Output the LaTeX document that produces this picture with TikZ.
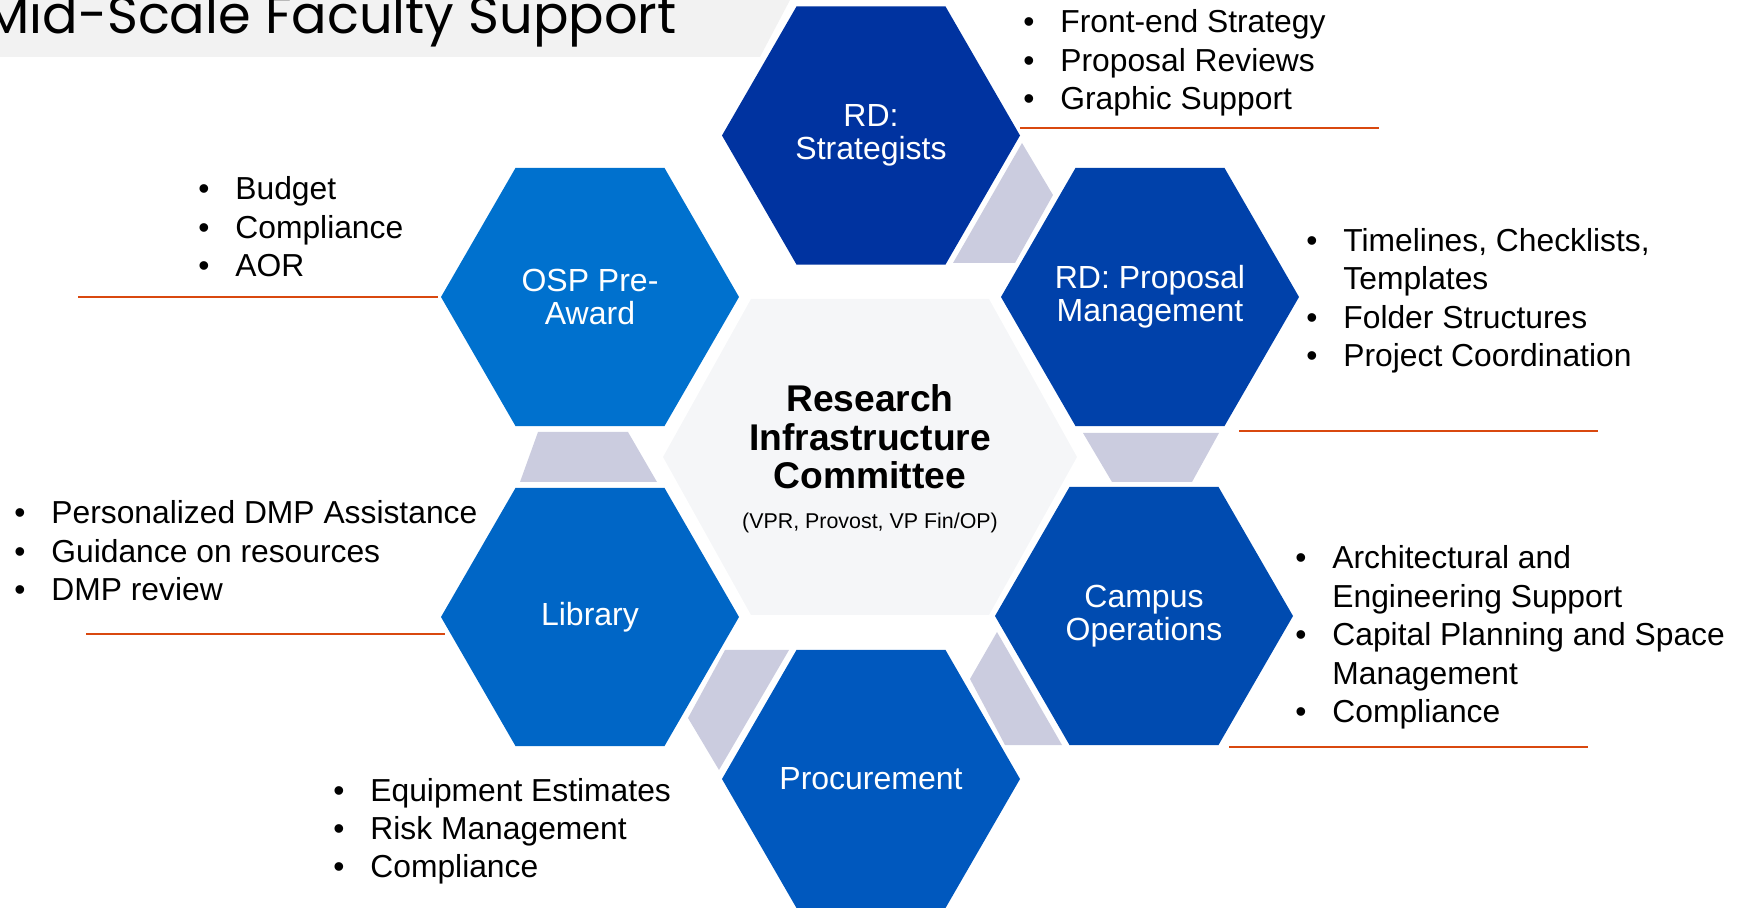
\documentclass[tikz,border=0pt]{standalone}
\usepackage{fontspec}
\setmainfont{Liberation Sans}
\newfontfamily\titlefont{Poppins}
\usetikzlibrary{shapes.geometric}

\definecolor{stratblue}{HTML}{0033A0}
\definecolor{ospblue}{HTML}{0071CE}
\definecolor{propblue}{HTML}{0041AA}
\definecolor{libblue}{HTML}{0066C6}
\definecolor{procblue}{HTML}{0058BE}
\definecolor{campblue}{HTML}{004BB0}
\definecolor{linkgray}{HTML}{CBCCDF}
\definecolor{hubfill}{HTML}{F5F6F8}
\definecolor{titlegray}{HTML}{F2F2F2}
\definecolor{dividerorange}{HTML}{D9480F}

\newcommand{\bitem}[1]{\textbullet & #1\\}
\newcommand{\bmore}[1]{ & #1\\}

\tikzset{
  hexcell/.style={regular polygon, regular polygon sides=6, minimum size=149pt,
    inner sep=-30pt, text=white, align=center, font=\fontsize{16}{16.7}\selectfont},
  tasklist/.style={anchor=base west, inner sep=0pt, font=\fontsize{15.9}{19.2}\selectfont},
  divider/.style={dividerorange, line width=1pt},
}

\begin{document}
\begin{tikzpicture}[x=0.5pt, y=-0.5pt]
  \useasboundingbox (0,0) rectangle (1746,908);
  \clip (0,0) rectangle (1746,908);

  % title band
  \fill[titlegray] (0,0) -- (790,0) -- (760,57) -- (0,57) -- cycle;
  \node[anchor=base east, inner sep=0pt, font=\titlefont\fontsize{26.3}{30}\selectfont] (title) at (677,34) {Mid-Scale Faculty Support};

  % hub
  \fill[hubfill] (663,457) -- (751,299) -- (989,299) -- (1077,457) -- (989,615) -- (751,615) -- cycle;
  \node[align=center, font=\bfseries\fontsize{18.6}{19.2}\selectfont] (ric) at (870,437) {Research\\Infrastructure\\Committee};
  \node[font=\fontsize{10.7}{12}\selectfont] (ricnote) at (870,523) {(VPR, Provost, VP Fin/OP)};

  % gray links
  \fill[linkgray] (1022,143) -- (1053,195) -- (1015,263) -- (953,263) -- cycle;
  \fill[linkgray] (538,432) -- (628,432) -- (657,482) -- (520,482) -- cycle;
  \fill[linkgray] (725,650) -- (789,650) -- (719,770) -- (688,718) -- cycle;
  \fill[linkgray] (997,632) -- (1062,745) -- (1005,745) -- (970,679) -- cycle;
  \fill[linkgray] (1083,433) -- (1219,433) -- (1192,482) -- (1112,482) -- cycle;

  % units
  \node[hexcell, fill=stratblue] (strat) at (871,135.5) {RD:\\Strategists};
  \node[hexcell, fill=ospblue] (osp) at (590,297) {OSP Pre-\\Award};
  \node[hexcell, fill=propblue] (prop) at (1150,297) {RD: Proposal\\Management};
  \node[hexcell, fill=libblue] (lib) at (590,617) {Library};
  \node[hexcell, fill=procblue] (proc) at (871,779) {Procurement};
  \node[hexcell, fill=campblue] (camp) at (1144,616) {Campus\\Operations};

  % task lists
  \node[tasklist] (stratlist) at (1023,33) {\begin{tabular}[t]{@{}p{18.5pt}@{}l@{}}
    \bitem{Front-end Strategy}\bitem{Proposal Reviews}\bitem{Graphic Support}\end{tabular}};
  \node[tasklist] (osplist) at (198,200) {\begin{tabular}[t]{@{}p{18.5pt}@{}l@{}}
    \bitem{Budget}\bitem{Compliance}\bitem{AOR}\end{tabular}};
  \node[tasklist] (proplist) at (1306,251.5) {\begin{tabular}[t]{@{}p{18.5pt}@{}l@{}}
    \bitem{Timelines, Checklists,}\bmore{Templates}\bitem{Folder Structures}\bitem{Project Coordination}\end{tabular}};
  \node[tasklist] (liblist) at (14,524) {\begin{tabular}[t]{@{}p{18.5pt}@{}l@{}}
    \bitem{Personalized DMP Assistance}\bitem{Guidance on resources}\bitem{DMP review}\end{tabular}};
  \node[tasklist] (camplist) at (1295,569) {\begin{tabular}[t]{@{}p{18.5pt}@{}l@{}}
    \bitem{Architectural and}\bmore{Engineering Support}\bitem{Capital Planning and Space}\bmore{Management}\bitem{Compliance}\end{tabular}};
  \node[tasklist] (proclist) at (333,801) {\begin{tabular}[t]{@{}p{18.5pt}@{}l@{}}
    \bitem{Equipment Estimates}\bitem{Risk Management}\bitem{Compliance}\end{tabular}};

  % dividers
  \draw[divider] (1020,128) -- (1379,128);
  \draw[divider] (78,297) -- (438,297);
  \draw[divider] (1239,431) -- (1598,431);
  \draw[divider] (86,634) -- (445,634);
  \draw[divider] (1229,747) -- (1588,747);
\end{tikzpicture}
\end{document}
